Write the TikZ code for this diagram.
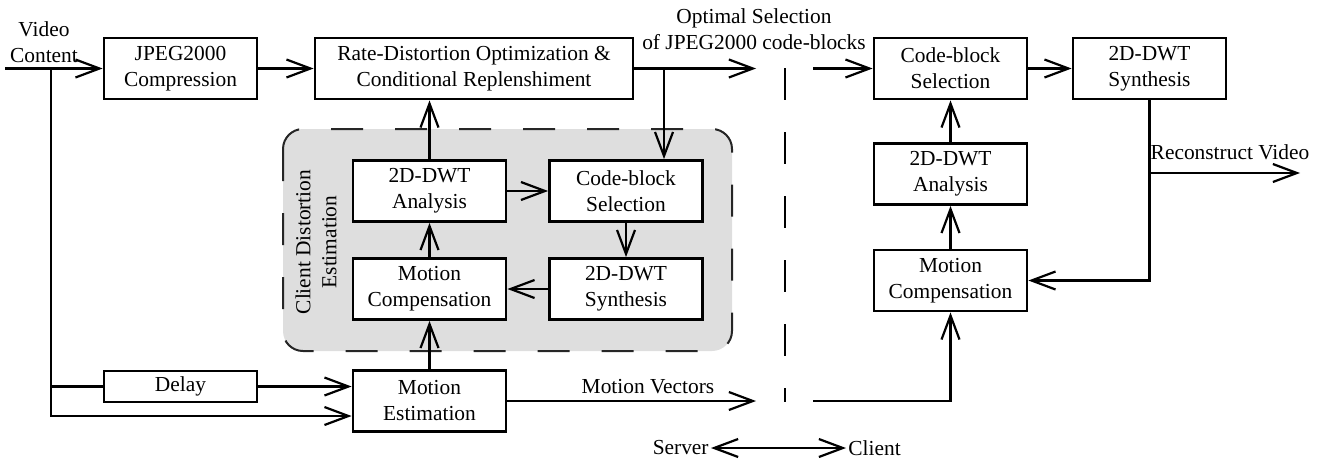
\documentclass[tikz,border=0pt]{standalone}
\usepackage{fontspec}
\setmainfont{Liberation Serif}
\usetikzlibrary{arrows.meta,positioning,calc}
\tikzset{
  blk/.style={draw=black, fill=white, line width=1.4pt, minimum width=76.5pt, minimum height=30.5pt, inner sep=2pt, align=center},
  arr/.style={-{Straight Barb[length=12pt,width=9pt]}, line width=1.1pt},
  arrLR/.style={{Straight Barb[length=12pt,width=9pt]}-{Straight Barb[length=12pt,width=9pt]}, line width=1.1pt},
  lnk/.style={line width=1.1pt},
  lbl/.style={inner sep=1pt, align=center},
  region/.style={draw=black!85, fill=black!13, line width=1pt, dash pattern=on 16pt off 16pt, rounded corners=10pt},
  divider/.style={line width=1.1pt, dash pattern=on 16pt off 16pt},
}

\begin{document}
\begin{tikzpicture}[x=0.5pt, y=-0.5pt, font=\fontsize{10.7}{13}\selectfont]
  \useasboundingbox (0,0) rectangle (1326,461);
  % distortion estimation loop run at the server
  \draw[region] (283,129) rectangle (732,351);
  \node[lbl, rotate=90] (cde) at (316,242) {Client Distortion\\Estimation};
  % server side
  \node[blk] (jpeg) at (180.5,68.5) {JPEG2000\\Compression};
  \node[blk, minimum width=159pt] (rd) at (474,68.5) {Rate-Distortion Optimization \&\\Conditional Replenshiment};
  \node[blk] (ana) at (429.5,191) {2D-DWT\\Analysis};
  \node[blk] (cbs) at (626,191) {Code-block\\Selection};
  \node[blk] (mc) at (429.5,289) {Motion\\Compensation};
  \node[blk] (syn) at (626,289) {2D-DWT\\Synthesis};
  \node[blk] (me) at (429.5,401) {Motion\\Estimation};
  \node[blk, minimum height=15.5pt] (delay) at (180.5,386.5) {Delay};
  % client side
  \node[blk] (ccbs) at (950.5,68.5) {Code-block\\Selection};
  \node[blk] (csyn) at (1149.5,68.5) {2D-DWT\\Synthesis};
  \node[blk] (cana) at (950.5,174) {2D-DWT\\Analysis};
  \node[blk] (cmc) at (950.5,280.5) {Motion\\Compensation};
  % labels
  \node[lbl] (vc) at (44,42) {Video\\Content};
  \node[lbl] (opt) at (754,29) {Optimal Selection\\of JPEG2000 code-blocks};
  \node[lbl] (mv) at (648,387) {Motion Vectors};
  \node[lbl] (rv) at (1230,152) {Reconstruct Video};
  \node[lbl, anchor=east] (srv) at (711,448) {Server};
  \node[lbl, anchor=west] (cli) at (846,448) {Client};
  % loose ends
  \coordinate (vin) at (5,68.5);
  \coordinate (vsplit) at (51,68.5);
  \coordinate (rdsplit) at (664,68.5);
  \coordinate (osout) at (756,68.5);
  \coordinate (osin) at (813,68.5);
  \coordinate (mvout) at (756,401);
  \coordinate (mvin) at (813,401);
  \coordinate (rvout) at (1300,173);
  \coordinate (divtop) at (785,68);
  \coordinate (divbot) at (785,402);
  % connectors
  \draw[arr] (vin) -- (jpeg.west);
  \draw[lnk] (vsplit) |- (delay.west);
  \draw[arr] (vsplit) |- ([yshift=-7.5pt]me.west);
  \draw[arr] (delay.east) -- (delay.east -| me.west);
  \draw[arr] (jpeg) -- (rd);
  \draw[arr] (rd.east) -- (osout);
  \draw[arr] (rdsplit) -- (rdsplit |- cbs.north);
  \draw[arr] (osin) -- (ccbs.west);
  \foreach \a/\b in {me/mc, mc/ana, ana/cbs, cbs/syn, syn/mc, cmc/cana, cana/ccbs, ccbs/csyn}
    \draw[arr] (\a) -- (\b);
  \draw[arr] (ana.north) -- (ana.north |- rd.south);
  \draw[arr] (me.east) -- (mvout);
  \draw[arr] (mvin) -| (cmc.south);
  \draw[arr] (csyn.south) |- (cmc.east);
  \draw[arr] (rvout -| csyn.south) -- (rvout);
  \draw[arrLR] (srv) -- (cli);
  \draw[divider] (divtop) -- (divbot);
\end{tikzpicture}
\end{document}
